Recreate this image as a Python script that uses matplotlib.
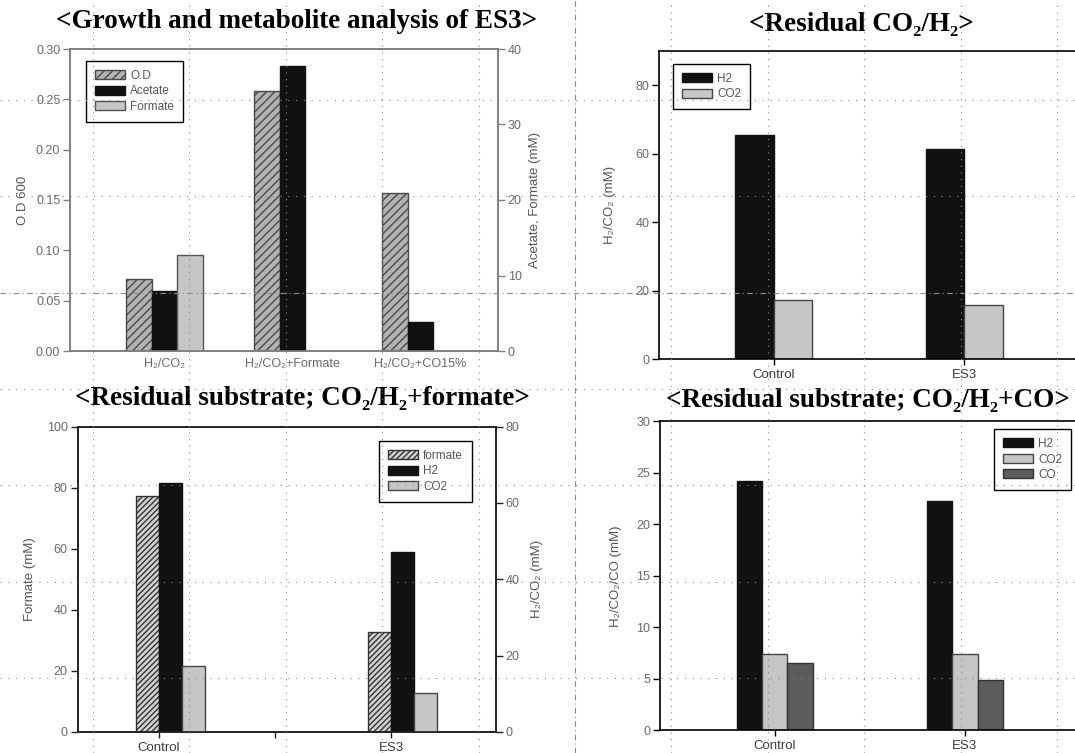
"""Growth and residual substrate bar panels for strain ES3."""

import numpy as np
import matplotlib

matplotlib.use("Agg")
import matplotlib.pyplot as plt
from matplotlib.lines import Line2D

plt.rcParams["font.family"] = ["Liberation Sans", "DejaVu Sans"]
plt.rcParams["hatch.linewidth"] = 1.0

# growth / metabolites per gas condition
growth_groups = ["H₂/CO₂", "H₂/CO₂+Formate", "H₂/CO₂+CO15%"]
od600 = [0.072, 0.258, 0.157]
acetate_mm = [7.95, 37.8, 3.8]
formate_mm = [12.7, np.nan, np.nan]

# residual gas, H2/CO2 only
strains = ["Control", "ES3"]
resid_h2 = [65.6, 61.4]
resid_co2 = [17.3, 15.8]

# residual substrate, H2/CO2 + formate
formate_ticks = ["Control", "", "ES3"]
formate_pos = [0, 2]
fm_formate = [77.2, 32.6]
fm_h2 = [65.2, 47.1]
fm_co2 = [17.2, 10.2]

# residual substrate, H2/CO2 + CO
co_h2 = [24.2, 22.25]
co_co2 = [7.38, 7.38]
co_co = [6.5, 4.85]

W, H = 1075, 753
BLACK = "#111111"
LIGHT = "#c6c6c6"
DARK = "#5c5c5c"
HATCH_FACE = "#b2b2b2"
TICK_GREY = "#6a6a6a"
TXT_GREY = "#555555"


def px_axes(fig, x0, x1, y0, y1):
    """Axes from pixel box (top-left origin)."""
    return fig.add_axes([x0 / W, 1 - y1 / H, (x1 - x0) / W, (y1 - y0) / H])


def style(ax, spine_color="black", lw=1.2):
    for sp in ax.spines.values():
        sp.set_color(spine_color)
        sp.set_linewidth(lw)
    ax.tick_params(axis="y", direction="out", length=5, width=1, color=spine_color,
                   labelsize=9, labelcolor=TICK_GREY, pad=2)
    ax.tick_params(axis="x", direction="out", length=4, width=1, color=spine_color,
                   labelsize=9.5, labelcolor="#3c3c3c", pad=3)


def ylabel(ax, x, text):
    ax.text(x, 0.5, text, transform=ax.transAxes, rotation=90, ha="center",
            va="center", fontsize=9.5, color=TXT_GREY)


def legend(ax, handles, labels, x, y):
    leg = ax.legend(handles, labels, loc="upper left", bbox_to_anchor=(x, y),
                    borderaxespad=0, fancybox=False, framealpha=1, edgecolor="black",
                    fontsize=8.5, handlelength=2.6, handleheight=0.8, handletextpad=0.4,
                    labelspacing=0.3, borderpad=0.75)
    leg.get_frame().set_linewidth(1.0)
    for t in leg.get_texts():
        t.set_color(TXT_GREY)
    return leg


def title(x, y, text):
    fig.text(x / W, 1 - y / H, text, ha="center", va="center", fontsize=19.5,
             fontweight="bold", family=["Liberation Serif", "DejaVu Serif"])


fig = plt.figure(figsize=(W / 100, H / 100), dpi=100)

# --- growth and metabolites ---
ax1 = px_axes(fig, 70, 498, 49, 351)
ax1b = ax1.twinx()
x = np.arange(len(growth_groups))
w = 0.2
b_od = ax1.bar(x - w, od600, w, color=HATCH_FACE, edgecolor="#4a4a4a", hatch="////", lw=1)
b_ac = ax1b.bar(x, acetate_mm, w, color=BLACK, edgecolor=BLACK, lw=1)
b_fo = ax1b.bar(x + w, formate_mm, w, color=LIGHT, edgecolor="#555555", lw=1)
ax1.set_xlim(-0.74, 2.605)
ax1.set_ylim(0, 0.30)
ax1.set_yticks(np.arange(0, 0.301, 0.05))
ax1.set_yticklabels([f"{v:.2f}" for v in np.arange(0, 0.301, 0.05)])
ax1b.set_ylim(0, 40)
ax1b.set_yticks([0, 10, 20, 30, 40])
ax1.set_xticks(x)
ax1.set_xticklabels(growth_groups)
for a in (ax1, ax1b):
    style(a, "#808080")
ax1.tick_params(axis="x", length=0, labelcolor=TICK_GREY, labelsize=9, pad=5)
ylabel(ax1, -0.11, "O.D 600")
ylabel(ax1, 1.086, "Acetate, Formate (mM)")
legend(ax1b, [b_od, b_ac, b_fo], ["O.D", "Acetate", "Formate"], 0.037, 0.96)
title(297, 22, "<Growth and metabolite analysis of ES3>")

# --- residual CO2/H2 ---
ax2 = px_axes(fig, 659, 1079, 51, 359)
xs = np.arange(len(strains))
w2 = 0.2
b_h2 = ax2.bar(xs - w2 / 2, resid_h2, w2, color=BLACK, edgecolor=BLACK, lw=1)
b_c2 = ax2.bar(xs + w2 / 2, resid_co2, w2, color=LIGHT, edgecolor="#444444", lw=1)
ax2.set_xlim(-0.6, 1.6)
ax2.set_ylim(0, 90)
ax2.set_yticks([0, 20, 40, 60, 80])
ax2.set_xticks(xs)
ax2.set_xticklabels(strains)
style(ax2)
ylabel(ax2, -0.117, "H₂/CO₂ (mM)")
legend(ax2, [b_h2, b_c2], ["H2", "CO2"], 0.033, 0.958)
title(861, 24, "<Residual CO₂/H₂>")

# --- residual substrate with formate ---
ax3 = px_axes(fig, 77.5, 496, 426.5, 732)
ax3b = ax3.twinx()
p3 = np.array(formate_pos)
w3 = 0.2
b3_fo = ax3.bar(p3 - w3 / 2, fm_formate, w3, color="#d2d2d2", edgecolor="#333333",
                hatch="//////", lw=1)
b3_h2 = ax3b.bar(p3 + w3 / 2, fm_h2, w3, color=BLACK, edgecolor=BLACK, lw=1)
b3_c2 = ax3b.bar(p3 + 3 * w3 / 2, fm_co2, w3, color=LIGHT, edgecolor="#444444", lw=1)
ax3.set_xlim(-0.70, 2.905)
ax3.set_ylim(0, 100)
ax3.set_yticks([0, 20, 40, 60, 80, 100])
ax3b.set_ylim(0, 80)
ax3b.set_yticks([0, 20, 40, 60, 80])
ax3.set_xticks(range(len(formate_ticks)))
ax3.set_xticklabels(formate_ticks)
for a in (ax3, ax3b):
    style(a, "#222222")
ylabel(ax3, -0.1135, "Formate (mM)")
ylabel(ax3, 1.098, "H₂/CO₂ (mM)")
legend(ax3b, [b3_fo, b3_h2, b3_c2], ["formate", "H2", "CO2"], 0.72, 0.9525)
title(302, 399, "<Residual substrate; CO₂/H₂+formate>")

# --- residual substrate with CO ---
ax4 = px_axes(fig, 660, 1079, 421.4, 730.4)
w4 = 0.133
b4_h2 = ax4.bar(xs - w4, co_h2, w4, color=BLACK, edgecolor=BLACK, lw=1)
b4_c2 = ax4.bar(xs, co_co2, w4, color=LIGHT, edgecolor="#444444", lw=1)
b4_co = ax4.bar(xs + w4, co_co, w4, color=DARK, edgecolor="#333333", lw=1)
ax4.set_xlim(-0.603, 1.6)
ax4.set_ylim(0, 30)
ax4.set_yticks([0, 5, 10, 15, 20, 25, 30])
ax4.set_xticks(xs)
ax4.set_xticklabels(strains)
style(ax4)
ylabel(ax4, -0.105, "H₂/CO₂/CO (mM)")
legend(ax4, [b4_h2, b4_c2, b4_co], ["H2", "CO2", "CO"], 0.797, 0.975)
title(868, 400, "<Residual substrate; CO₂/H₂+CO>")

# page guide lines across the whole sheet
grid_x = [93 + 96.4 * k for k in range(11)]
grid_y = [100 + 96.3 * k for k in range(7)]
for k, gx in enumerate(grid_x):
    ls = (0, (5, 3, 1, 3)) if k == 5 else (0, (1, 5))
    fig.add_artist(Line2D([gx / W, gx / W], [0, 1], transform=fig.transFigure,
                          color="#8c8c8c", lw=0.8, ls=ls, zorder=20))
for k, gy in enumerate(grid_y):
    ls = (0, (5, 3, 1, 3)) if k == 2 else (0, (1, 6))
    fig.add_artist(Line2D([0, 1], [1 - gy / H, 1 - gy / H], transform=fig.transFigure,
                          color="#8c8c8c", lw=0.8, ls=ls, zorder=20))

fig.savefig("out.png", dpi=100)
